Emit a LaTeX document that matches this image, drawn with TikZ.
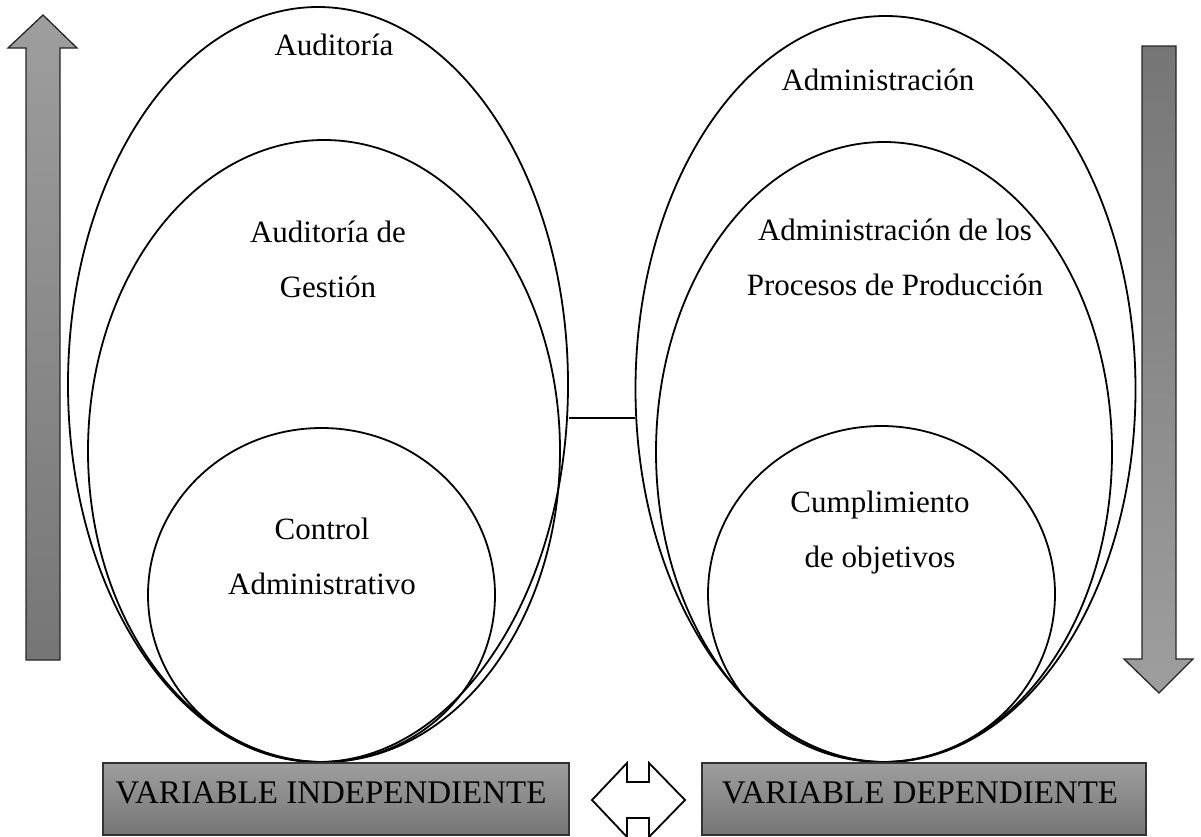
\documentclass[tikz,border=0pt]{standalone}
\usepackage{fontspec}
\setmainfont{Liberation Serif}
\usetikzlibrary{shapes.geometric}
\definecolor{shadelight}{HTML}{9E9E9E}
\definecolor{shadedark}{HTML}{767676}
\begin{document}
\begin{tikzpicture}[x=1pt,y=-1pt,
  ring/.style={draw=black, ellipse, line width=1.8pt, inner sep=0pt},
  label/.style={align=center, font=\fontsize{31}{55}\selectfont, inner sep=0pt},
  varbox/.style={draw=black!80, line width=1.2pt, rectangle, inner sep=0pt,
    top color=shadelight, bottom color=shadedark},
  vartext/.style={font=\fontsize{33}{40}\selectfont, inner sep=0pt},
  bigarrow/.style={draw=black!85, line width=1.3pt, line join=miter},
]
\useasboundingbox (0,0) rectangle (1201,836);

% vertical direction arrows
\path[bigarrow, top color=shadelight, bottom color=shadedark]
  (26,660) -- (26,48) -- (8,48) -- (43,15) -- (77,48) -- (60,48) -- (60,660) -- cycle;
\path[bigarrow, top color=shadedark, bottom color=shadelight]
  (1142,46) -- (1176,46) -- (1176,659) -- (1193,659) -- (1159,693) -- (1124,659) -- (1142,659) -- cycle;

% nested ellipses, left group
\node[ring, minimum width=500pt, minimum height=755pt] (lo) at (318,384.5) {};
\node[ring, minimum width=472pt, minimum height=622pt] (lm) at (324,451) {};
\node[ring, minimum width=347pt, minimum height=334pt] (li) at (321.5,595) {};

% nested ellipses, right group
\node[ring, minimum width=500pt, minimum height=746pt] (ro) at (885.5,389) {};
\node[ring, minimum width=456pt, minimum height=620pt] (rm) at (884,452) {};
\node[ring, minimum width=347pt, minimum height=336pt] (ri) at (881.5,594) {};

% link between the two groups
\draw[line width=1.8pt] ([yshift=-33.5pt]lo.east) -- ([yshift=-29pt]ro.west);

% ellipse labels
\node[label] (t1) at (334,45) {Auditoría};
\node[label] (t2) at (328,259) {Auditoría de\\Gestión};
\node[label] (t3) at (322,556) {Control\\Administrativo};
\node[label] (t4) at (878,80) {Administración};
\node[label] (t5) at (895,257) {Administración de los\\Procesos de Producción};
\node[label] (t6) at (880,533) {Cumplimiento\\de objetivos};

% variable boxes
\node[varbox, minimum width=466pt, minimum height=72pt] (vi) at (336,799) {};
\node[vartext] (vit) at (331,792.5) {VARIABLE INDEPENDIENTE};
\node[varbox, minimum width=444pt, minimum height=72pt] (vd) at (924,799) {};
\node[vartext] (vdt) at (920,792.5) {VARIABLE DEPENDIENTE};

% two-headed arrow between the boxes
\draw[line width=1.8pt, fill=white, line join=miter]
  (592,800) -- (627,763) -- (627,782) -- (649,782) -- (649,763) -- (685,800)
  -- (649,837) -- (649,818) -- (627,818) -- (627,837) -- cycle;
\end{tikzpicture}
\end{document}
